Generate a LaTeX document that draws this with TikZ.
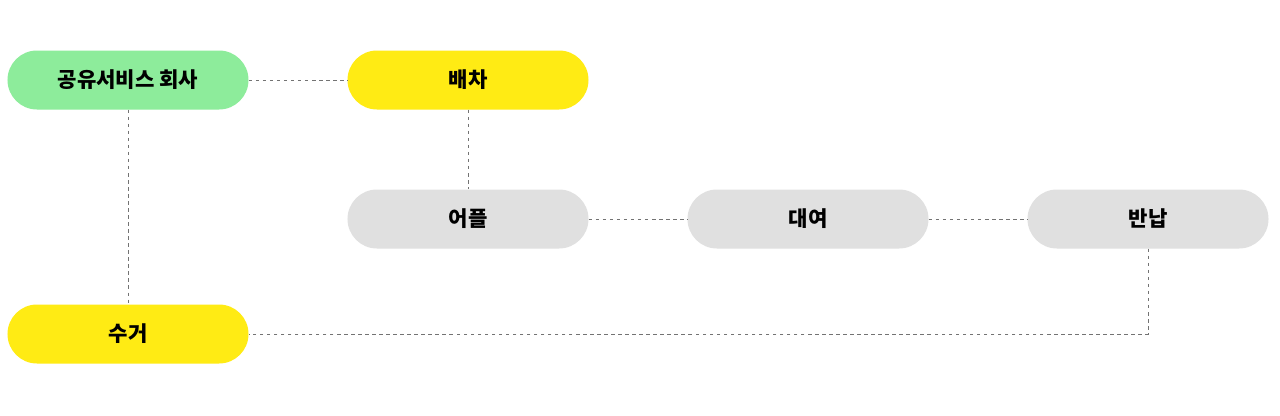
\documentclass[tikz,border=0pt]{standalone}
\usepackage{fontspec}
\newfontfamily\kr{Noto Sans CJK KR}
\definecolor{gr}{HTML}{8DEC9B}
\definecolor{ye}{HTML}{FFEB14}
\definecolor{gy}{HTML}{E0E0E0}
\begin{document}
\begin{tikzpicture}[x=0.03cm,y=-0.03cm,
  pill/.style={rectangle,rounded corners=0.885cm,minimum width=7.23cm,minimum height=1.77cm,inner sep=0pt,font=\kr\bfseries\fontsize{18}{20}\selectfont},
  con/.style={draw=black!55,dashed,line width=0.6pt}]
\fill[white] (0,0) rectangle (1280,415);
\node[pill,fill=gr] (a) at (128,80) {공유서비스 회사};
\node[pill,fill=ye] (b) at (468,80) {배차};
\node[pill,fill=gy] (c) at (468,219) {어플};
\node[pill,fill=gy] (d) at (808,219) {대여};
\node[pill,fill=gy] (e) at (1148,219) {반납};
\node[pill,fill=ye] (f) at (128,334) {수거};
\coordinate (k) at (1148,334);
\draw[con] (a) -- (b);
\draw[con] (b) -- (c);
\draw[con] (a) -- (f);
\draw[con] (c) -- (d);
\draw[con] (d) -- (e);
\draw[con] (e.south) -- (k) -- (f.east);
\end{tikzpicture}
\end{document}
